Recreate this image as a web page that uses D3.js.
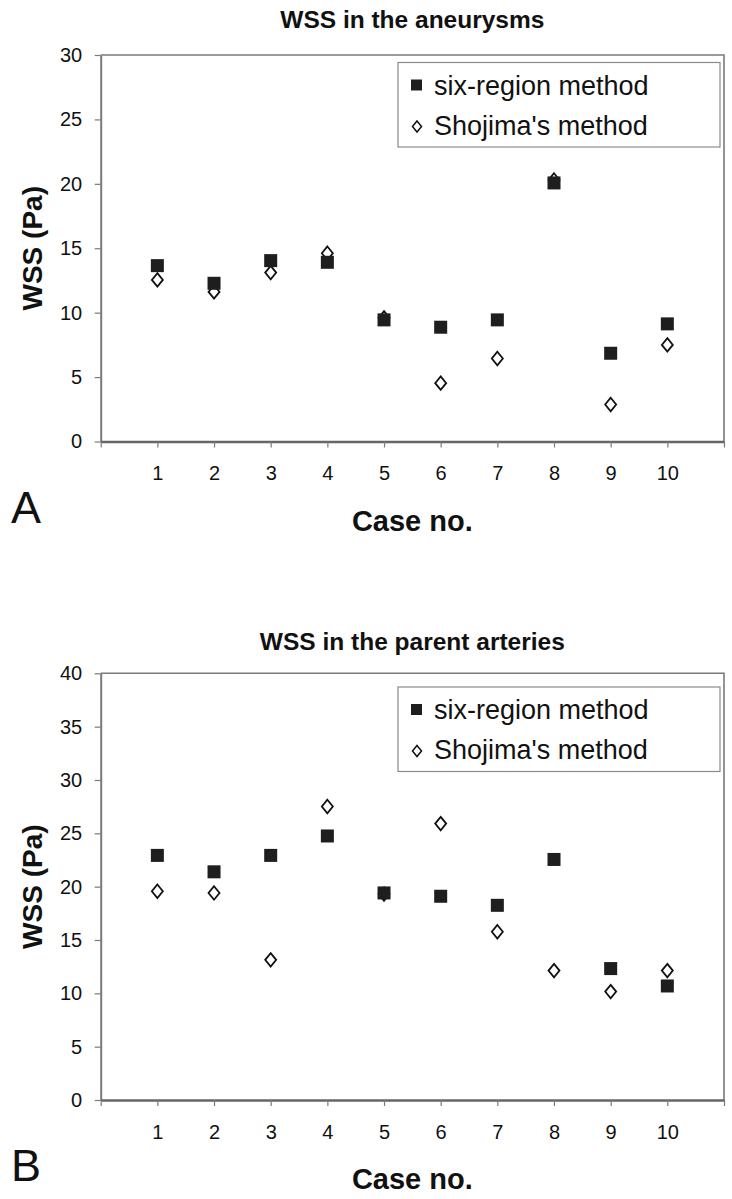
<!DOCTYPE html>
<html>
<head>
<meta charset="utf-8">
<script src="https://cdn.jsdelivr.net/npm/d3@7"></script>
<style>
  html, body { margin: 0; padding: 0; background: #fff; }
  svg { display: block; }
  text { font-family: "Liberation Sans", Arial, sans-serif; fill: #111; }
</style>
</head>
<body>
<svg id="chart" width="732" height="1199"></svg>
<script>
// ---- data ----
const cases = [1, 2, 3, 4, 5, 6, 7, 8, 9, 10];
const seriesNames = ["six-region method", "Shojima's method"];

const aneurysmSixRegion = [13.65, 12.28, 14.04, 13.91, 9.44, 8.87, 9.44, 20.07, 6.85, 9.13];
const aneurysmShojima   = [12.54, 11.61, 13.11, 14.61, 9.60, 4.53, 6.44, 20.30, 2.87, 7.50];

const parentSixRegion = [22.93, 21.39, 22.93, 24.75, 19.41, 19.10, 18.25, 22.55, 12.32, 10.69];
const parentShojima   = [19.57, 19.41, 13.14, 27.51, 19.30, 25.91, 15.77, 12.13, 10.16, 12.13];

const yTicksA = [0, 5, 10, 15, 20, 25, 30];
const yTicksB = [0, 5, 10, 15, 20, 25, 30, 35, 40];

const titles = ["WSS in the aneurysms", "WSS in the parent arteries"];
const panelLetters = ["A", "B"];
const xTitle = "Case no.";
const yTitle = "WSS (Pa)";

// ---- layout ----
const svg = d3.select("#chart");
const panels = [
  { title: titles[0], letter: panelLetters[0], six: aneurysmSixRegion, sho: aneurysmShojima,
    ticks: yTicksA, top: 55, bottom: 441.5, titleY: 28, legendTop: 62.5 },
  { title: titles[1], letter: panelLetters[1], six: parentSixRegion, sho: parentShojima,
    ticks: yTicksB, top: 673.3, bottom: 1100, titleY: 650, legendTop: 687 }
];
const left = 100.7, right = 724;
const frameColor = "#7a7a7a";
const markColor = "#1e1e1e";

panels.forEach(p => {
  const g = svg.append("g");
  const x = d3.scaleLinear().domain([0, 11]).range([left, right]);
  const y = d3.scaleLinear().domain([0, d3.max(p.ticks)]).range([p.bottom, p.top]);

  // frame (top & right)
  g.append("path")
    .attr("d", `M${left},${p.top}H${right}V${p.bottom}`)
    .attr("fill", "none").attr("stroke", frameColor).attr("stroke-width", 1.6);

  // y axis
  const ya = g.append("g").attr("transform", `translate(${left},0)`)
    .call(d3.axisLeft(y).tickValues(p.ticks).tickSize(6).tickSizeOuter(0).tickPadding(12.5));
  ya.select(".domain").attr("stroke", frameColor).attr("stroke-width", 2);
  ya.selectAll(".tick line").attr("stroke", frameColor).attr("stroke-width", 1.2);
  ya.selectAll(".tick text").attr("font-size", 20).attr("fill", "#111")
    .attr("font-family", "Liberation Sans, Arial, sans-serif");

  // x axis
  const xa = g.append("g").attr("transform", `translate(0,${p.bottom})`)
    .call(d3.axisBottom(x).tickValues(d3.range(0, 12)).tickSize(6).tickSizeOuter(0).tickPadding(18.5)
      .tickFormat(d => (d >= 1 && d <= cases.length) ? String(cases[d - 1]) : ""));
  xa.select(".domain").attr("stroke", "#666").attr("stroke-width", 2.4);
  xa.selectAll(".tick line").attr("stroke", frameColor).attr("stroke-width", 1.2);
  xa.selectAll(".tick text").attr("font-size", 20).attr("fill", "#111")
    .attr("font-family", "Liberation Sans, Arial, sans-serif");

  // title
  g.append("text").attr("x", (left + right) / 2).attr("y", p.titleY)
    .attr("text-anchor", "middle").attr("font-size", 24.5).attr("font-weight", "bold")
    .text(p.title);

  // y title
  g.append("text")
    .attr("transform", `translate(42,${(p.top + p.bottom) / 2}) rotate(-90)`)
    .attr("text-anchor", "middle").attr("font-size", 28).attr("font-weight", "bold")
    .text(yTitle);

  // x title
  g.append("text").attr("x", (left + right) / 2).attr("y", p.bottom + 89)
    .attr("text-anchor", "middle").attr("font-size", 29).attr("font-weight", "bold")
    .text(xTitle);

  // panel letter
  g.append("text").attr("x", 11).attr("y", p.bottom + 81)
    .attr("font-size", 45).attr("fill", "#111")
    .text(p.letter);

  // markers: diamonds under squares
  const diamond = (cx, cy, w, h) => `M${cx},${cy - h / 2}L${cx + w / 2},${cy}L${cx},${cy + h / 2}L${cx - w / 2},${cy}Z`;
  g.append("g").selectAll("path").data(p.sho).join("path")
    .attr("d", (d, i) => diamond(x(cases[i]), y(d), 11, 13.5))
    .attr("fill", "#fff").attr("stroke", "#111").attr("stroke-width", 1.8);
  g.append("g").selectAll("rect").data(p.six).join("rect")
    .attr("x", (d, i) => x(cases[i]) - 6.5).attr("y", d => y(d) - 6.5)
    .attr("width", 13).attr("height", 13).attr("fill", markColor);

  // legend
  const lg = g.append("g");
  lg.append("rect").attr("x", 398).attr("y", p.legendTop).attr("width", 322).attr("height", 84.5)
    .attr("fill", "#fff").attr("stroke", "#8a8a8a").attr("stroke-width", 1.2);
  const row1 = p.legendTop + 32, row2 = row1 + 40;
  lg.append("rect").attr("x", 411).attr("y", row1 - 15).attr("width", 11).attr("height", 11)
    .attr("fill", markColor);
  lg.append("path").attr("d", diamond(417, row2 - 8, 9, 11))
    .attr("fill", "#fff").attr("stroke", "#111").attr("stroke-width", 1.5);
  lg.append("text").attr("x", 434).attr("y", row1).attr("font-size", 27).text(seriesNames[0]);
  lg.append("text").attr("x", 434).attr("y", row2).attr("font-size", 27).text(seriesNames[1]);
});
</script>
</body>
</html>
